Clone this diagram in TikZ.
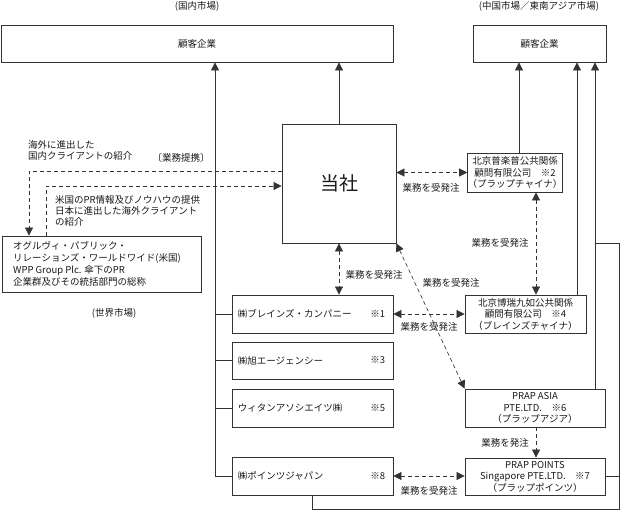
\documentclass[tikz,border=0pt]{standalone}
\usepackage{fontspec}
\setmainfont{Noto Sans CJK JP}
\usetikzlibrary{arrows.meta}
\begin{document}
\begin{tikzpicture}[x=1pt,y=-1pt,
  every node/.style={font=\fontsize{9.5pt}{11.5pt}\selectfont, text=black!90, inner sep=0pt},
  box/.style 2 args={draw=black!80, line width=0.8pt, minimum width=#1, minimum height=#2, align=center},
  ln/.style={draw=black!80, line width=0.65pt},
  dsh/.style={ln, dash pattern=on 4pt off 3pt},
  arr/.style={-{Triangle[width=8pt,length=8pt]}},
  darr/.style={{Triangle[width=8pt,length=8pt]}-{Triangle[width=8pt,length=8pt]}},
  lbl/.style={}
]
\useasboundingbox (0,0) rectangle (621,511);

% titles
\node[lbl] (tL) at (197,6) {(国内市場)};
\node[lbl] (tR) at (539,6) {(中国市場／東南アジア市場)};
\node[lbl] (tW) at (114,313) {(世界市場)};

% customer boxes
\node[box={392pt}{37pt}] (kL) at (197,43.5) {顧客企業};
\node[box={133pt}{37pt}] (kR) at (539.5,43.5) {顧客企業};

% main
\node[box={114pt}{119pt}, font=\fontsize{19pt}{22pt}\selectfont] (tosha) at (339,183.5) {当社};

% china / asia boxes
\node[box={94pt}{39pt}] (purap) at (515,172.5) {北京普楽普公共関係\\顧問有限公司　※2\\（プラップチャイナ）};
\node[box={121pt}{38pt}] (burei) at (525.5,314) {北京博瑞九如公共関係\\顧問有限公司　※4\\（ブレインズチャイナ）};
\node[box={140pt}{38pt}] (asia) at (535,408) {PRAP ASIA\\PTE.LTD.　※6\\（プラップアジア）};
\node[box={140pt}{37pt}] (points) at (535,476.5) {PRAP POINTS\\Singapore PTE.LTD.　※7\\（プラップポインツ）};

% domestic group boxes
\node[box={161pt}{38pt}] (brains) at (312.5,314) {};
\node[anchor=west] (brainsT) at ([xshift=6pt]brains.west) {㈱ブレインズ・カンパニー};
\node[anchor=east] (brainsN) at ([xshift=-8pt]brains.east) {※1};
\node[box={161pt}{37pt}] (asahi) at (312.5,360.5) {};
\node[anchor=west] (asahiT) at ([xshift=6pt]asahi.west) {㈱旭エージェンシー};
\node[anchor=east] (asahiN) at ([xshift=-8pt]asahi.east) {※3};
\node[box={161pt}{38pt}] (witan) at (312.5,408) {};
\node[anchor=west] (witanT) at ([xshift=6pt]witan.west) {ウィタンアソシエイツ㈱};
\node[anchor=east] (witanN) at ([xshift=-8pt]witan.east) {※5};
\node[box={161pt}{38pt}] (pjapan) at (312.5,476) {};
\node[anchor=west] (pjapanT) at ([xshift=6pt]pjapan.west) {㈱ポインツジャパン};
\node[anchor=east] (pjapanN) at ([xshift=-8pt]pjapan.east) {※8};

% Ogilvy
\node[box={199pt}{56pt}] (ogilvy) at (101.5,264) {};
\node[anchor=north west, align=left, font=\fontsize{9.5pt}{12pt}\selectfont] (ogT) at (13,241) {オグルヴィ・パブリック・\\リレーションズ・ワールドワイド(米国)\\WPP Group Plc. 傘下のPR\\企業群及びその統括部門の総称};

% helper coordinates
\coordinate (x215) at (215,0);
\coordinate (x519) at (519,0);
\coordinate (x577) at (577,0);
\coordinate (x595) at (595,0);
\coordinate (x536) at (536,0);
\coordinate (x29) at (29,0);
\coordinate (x46) at (46,0);
\coordinate (y171) at (0,171);
\coordinate (y186) at (0,186);
\coordinate (y172) at (0,172.5);
\coordinate (bl) at (312,509);
\coordinate (br) at (619,509);
\coordinate (tr) at (619,243);
\coordinate (tl) at (595,243);

% tree to domestic customers
\draw[ln,arr] (x215 |- pjapan.west) -- (x215 |- kL.south);
\draw[ln] (brains.west) -- (x215 |- brains.west);
\draw[ln] (asahi.west) -- (x215 |- asahi.west);
\draw[ln] (witan.west) -- (x215 |- witan.west);
\draw[ln] (pjapan.west) -- (x215 |- pjapan.west);
\draw[ln,arr] (tosha.north) -- (tosha.north |- kL.south);

% to overseas customers
\draw[ln,arr] (x519 |- purap.north) -- (x519 |- kR.south);
\draw[ln,arr] (x577 |- burei.north) -- (x577 |- kR.south);
\draw[ln,arr] (x595 |- asia.north) -- (x595 |- kR.south);
\draw[ln] (pjapan.south -| bl) -- (bl) -- (br) -- (tr) -- (tl);
\draw[ln] (points.east) -- (points.east -| tr);

% dashed order connectors
\draw[dsh,darr] (tosha.east |- y172) -- (purap.west |- y172);
\draw[dsh,darr] (x536 |- purap.south) -- (x536 |- burei.north);
\draw[dsh,darr] (tosha.south) -- (tosha.south |- brains.north);
\draw[dsh,darr] (brains.east) -- (burei.west);
\draw[dsh,darr] (tosha.south east) -- (asia.north west);
\draw[dsh,arr] (x536 |- asia.south) -- (x536 |- points.north);
\draw[dsh,darr] (pjapan.east) -- (pjapan.east -| points.west);

% Ogilvy connectors
\draw[dsh,arr] (tosha.west |- y171) -| (x29 |- ogilvy.north);
\draw[dsh,arr] (x46 |- ogilvy.north) |- (tosha.west |- y186);

% labels
\node[lbl] (l1) at (431,188) {業務を受発注};
\node[lbl] (l2) at (500,243) {業務を受発注};
\node[lbl] (l3) at (374,275) {業務を受発注};
\node[lbl] (l4) at (451,283) {業務を受発注};
\node[lbl] (l5) at (429,327) {業務を受発注};
\node[lbl] (l6) at (505,443) {業務を発注};
\node[lbl] (l7) at (429,491) {業務を受発注};
\node[lbl, anchor=west, align=left, font=\fontsize{9.5pt}{11.5pt}\selectfont] (l8) at (28,150.5) {海外に進出した\\国内クライアントの紹介};
\node[lbl] (l9) at (181,158) {〔業務提携〕};
\node[lbl, anchor=west, align=left, font=\fontsize{9.5pt}{11pt}\selectfont] (l10) at (55,211) {米国のPR情報及びノウハウの提供\\日本に進出した海外クライアント\\の紹介};
\end{tikzpicture}
\end{document}
